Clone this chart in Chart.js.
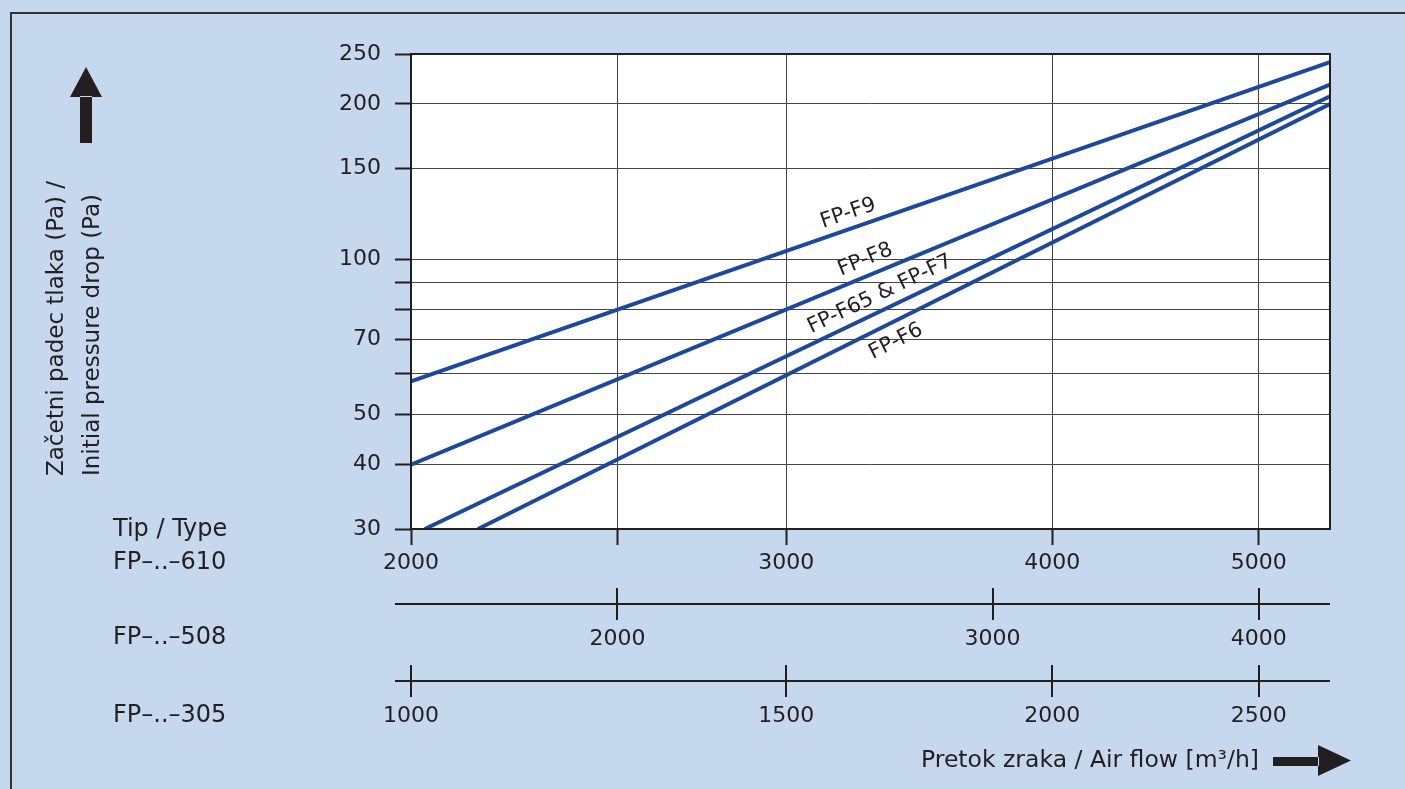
<!DOCTYPE html>
<html>
<head>
<meta charset="utf-8">
<title>Začetni padec tlaka / Initial pressure drop</title>
<script src="https://cdn.jsdelivr.net/npm/chart.js@4.4.1/dist/chart.umd.min.js"></script>
<style>
  html, body { margin: 0; padding: 0; background: #c6d8ee; }
  #wrap { width: 1405px; height: 789px; position: relative; }
</style>
</head>
<body>
<div id="wrap"><canvas id="chart" width="1405" height="789"></canvas></div>
<script>
/*---------- Data ----------------*/
const seriesNames = ["FP-F9", "FP-F8", "FP-F65 & FP-F7", "FP-F6"];

// air flow [m3/h] (FP-..-610) and initial pressure drop [Pa] at both ends of each line
const f9Flow = [2000, 5400];
const f9Drop = [58, 241];
const f8Flow = [2000, 5400];
const f8Drop = [40, 218];
const f7Flow = [2030, 5400];
const f7Drop = [30, 207];
const f6Flow = [2150, 5400];
const f6Drop = [30, 200];

// axis ticks
const dropTicks = [30, 40, 50, 60, 70, 80, 90, 100, 150, 200, 250];
const dropLabels = ["30", "40", "50", "", "70", "", "", "100", "150", "200", "250"];
const flowTicks610 = [2000, 2500, 3000, 4000, 5000];
const flowLabels610 = ["2000", "", "3000", "4000", "5000"];
const flowTicks508 = [2000, 3000, 4000];
const flowTicks305 = [1000, 1500, 2000, 2500];

// flow of the other filter sizes compared to FP-..-610
const ratio508 = 1.25;
const ratio305 = 2;

const flowMin = 2000;
const flowMax = 5400;

/*---------- Styles ----------------*/
const ink = "#231f20";
const lineBlue = "#1e489b";
const fontFamily = '"DejaVu Sans", Verdana, sans-serif';
Chart.defaults.font.family = fontFamily;
Chart.defaults.color = ink;

function toPoints(flow, drop) {
  return flow.map((f, i) => ({ x: f, y: drop[i] }));
}

const lineSeries = [
  toPoints(f9Flow, f9Drop),
  toPoints(f8Flow, f8Drop),
  toPoints(f7Flow, f7Drop),
  toPoints(f6Flow, f6Drop),
];

// where the series names sit: flow value along the line, vertical shift in px
const labelAtFlow = [3208, 3268, 3320, 3378];
const labelShift = [-16, -17, -17, 21];

/*---------- Drawing helpers ----------------*/
function drawTypeAxis(chart, scale, ticks, lineY) {
  const { ctx, chartArea: a } = chart;
  ctx.save();
  ctx.strokeStyle = ink;
  ctx.lineWidth = 2;
  ctx.beginPath();
  ctx.moveTo(a.left - 16, lineY);
  ctx.lineTo(a.right, lineY);
  ticks.forEach((v) => {
    const x = Math.round(scale.getPixelForValue(v));
    ctx.moveTo(x, lineY - 16);
    ctx.lineTo(x, lineY + 16);
  });
  ctx.stroke();
  ctx.fillStyle = ink;
  ctx.font = "22px " + fontFamily;
  ctx.textAlign = "center";
  ctx.textBaseline = "middle";
  ticks.forEach((v) => {
    ctx.fillText(String(v), scale.getPixelForValue(v), lineY + 35);
  });
  ctx.restore();
}

const decorations = {
  id: "decorations",
  beforeDraw(chart) {
    const { ctx, chartArea: a } = chart;
    ctx.save();
    ctx.fillStyle = "#ffffff";
    ctx.fillRect(a.left, a.top, a.right - a.left, a.bottom - a.top);
    ctx.restore();
  },
  afterDatasetsDraw(chart) {
    const { ctx, chartArea: a } = chart;
    const xScale = chart.scales.x;
    ctx.save();
    // plot frame
    ctx.strokeStyle = ink;
    ctx.lineWidth = 2;
    ctx.strokeRect(a.left, a.top, a.right - a.left, a.bottom - a.top);

    // series names written along the lines
    ctx.fillStyle = ink;
    ctx.font = "21px " + fontFamily;
    ctx.textAlign = "center";
    ctx.textBaseline = "middle";
    seriesNames.forEach((name, i) => {
      const pts = chart.getDatasetMeta(i).data;
      const p0 = pts[0];
      const p1 = pts[pts.length - 1];
      const angle = Math.atan2(p1.y - p0.y, p1.x - p0.x);
      const px = xScale.getPixelForValue(labelAtFlow[i]);
      const py = p0.y + ((px - p0.x) * (p1.y - p0.y)) / (p1.x - p0.x) + labelShift[i];
      ctx.save();
      ctx.translate(px, py);
      ctx.rotate(angle);
      ctx.fillText(name, 0, 0);
      ctx.restore();
    });
    ctx.restore();
  },
  afterDraw(chart) {
    const { ctx } = chart;

    drawTypeAxis(chart, chart.scales.x508, flowTicks508, 604);
    drawTypeAxis(chart, chart.scales.x305, flowTicks305, 681);

    ctx.save();
    ctx.fillStyle = ink;
    ctx.textBaseline = "middle";
    ctx.textAlign = "left";
    ctx.font = "24px " + fontFamily;
    ctx.fillText("Tip / Type", 113, 530);
    ctx.fillText("FP\u2013..\u2013610", 113, 563);
    ctx.fillText("FP\u2013..\u2013508", 113, 638);
    ctx.fillText("FP\u2013..\u2013305", 113, 716);
    ctx.font = "23.5px " + fontFamily;
    ctx.fillText("Pretok zraka / Air flow [m\u00b3/h]", 921, 761);

    // y axis title
    ctx.font = "23px " + fontFamily;
    ctx.save();
    ctx.translate(57, 476);
    ctx.rotate(-Math.PI / 2);
    ctx.fillText("Začetni padec tlaka (Pa) /", 0, 0);
    ctx.fillText("Initial pressure drop (Pa)", 0, 36);
    ctx.restore();

    // arrows
    ctx.beginPath();
    ctx.rect(80, 96, 12, 47);
    ctx.moveTo(70, 97);
    ctx.lineTo(102, 97);
    ctx.lineTo(86, 67);
    ctx.closePath();
    ctx.fill();

    ctx.beginPath();
    ctx.rect(1273, 757, 46, 9);
    ctx.moveTo(1318, 745);
    ctx.lineTo(1318, 776);
    ctx.lineTo(1351, 760.5);
    ctx.closePath();
    ctx.fill();

    // outer box
    ctx.strokeStyle = "#333";
    ctx.lineWidth = 2;
    ctx.beginPath();
    ctx.moveTo(11, 789);
    ctx.lineTo(11, 13);
    ctx.lineTo(1405, 13);
    ctx.stroke();
    ctx.restore();
  },
};

/*-----------Chart---------------*/
const pressureChart = new Chart(document.getElementById("chart"), {
  type: "line",
  data: {
    datasets: seriesNames.map((name, i) => ({
      label: name,
      data: lineSeries[i],
      xAxisID: "x",
      yAxisID: "y",
      borderColor: lineBlue,
      borderWidth: 4,
      pointRadius: 0,
      tension: 0,
      fill: false,
    })),
  },
  options: {
    responsive: false,
    animation: false,
    devicePixelRatio: 1,
    layout: { padding: { left: 0, top: 54, right: 75, bottom: 200 } },
    plugins: {
      legend: { display: false },
      tooltip: { enabled: false },
    },
    scales: {
      x: {
        type: "logarithmic",
        position: "bottom",
        min: flowMin,
        max: flowMax,
        afterFit: (s) => {
          s.height = 60;
        },
        afterBuildTicks: (s) => {
          s.ticks = flowTicks610.map((v) => ({ value: v }));
        },
        ticks: {
          autoSkip: false,
          maxRotation: 0,
          padding: 5,
          color: ink,
          font: { size: 22 },
          callback: (v, i) => flowLabels610[i],
        },
        grid: { color: "#444", lineWidth: 1, tickLength: 16, tickWidth: 2, tickColor: ink },
        border: { display: false },
      },
      y: {
        type: "logarithmic",
        position: "left",
        min: 30,
        max: 250,
        afterFit: (s) => {
          s.width = 411;
        },
        afterBuildTicks: (s) => {
          s.ticks = dropTicks.map((v) => ({ value: v }));
        },
        ticks: {
          autoSkip: false,
          padding: 14,
          color: ink,
          font: { size: 22 },
          callback: (v, i) => dropLabels[i],
        },
        grid: { color: "#444", lineWidth: 1, tickLength: 16, tickWidth: 2, tickColor: ink },
        border: { display: false },
      },
      x508: {
        type: "logarithmic",
        position: "bottom",
        display: false,
        min: flowMin / ratio508,
        max: flowMax / ratio508,
      },
      x305: {
        type: "logarithmic",
        position: "bottom",
        display: false,
        min: flowMin / ratio305,
        max: flowMax / ratio305,
      },
    },
  },
  plugins: [decorations],
});
</script>
</body>
</html>
